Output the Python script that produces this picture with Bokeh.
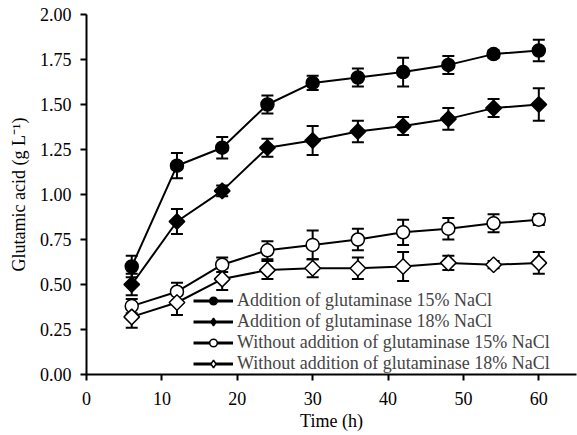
import numpy as np
from bokeh.plotting import figure
from bokeh.models import (ColumnDataSource, Whisker, TeeHead, Legend, LegendItem, FixedTicker,
                          NumeralTickFormatter, Range1d, LinearAxis, BasicTickFormatter)
from bokeh.embed import file_html
from bokeh.resources import INLINE

time_h = [6, 12, 18, 24, 30, 36, 42, 48, 54, 60]

add_15 = [0.60, 1.16, 1.26, 1.50, 1.62, 1.65, 1.68, 1.72, 1.78, 1.80]
add_15_err = [0.06, 0.07, 0.06, 0.05, 0.04, 0.05, 0.08, 0.05, 0.02, 0.06]

add_18 = [0.50, 0.85, 1.02, 1.26, 1.30, 1.35, 1.38, 1.42, 1.48, 1.50]
add_18_err = [0.06, 0.07, 0.03, 0.05, 0.08, 0.06, 0.05, 0.06, 0.05, 0.09]

wo_15 = [0.38, 0.46, 0.61, 0.69, 0.72, 0.75, 0.79, 0.81, 0.84, 0.86]
wo_15_err = [0.04, 0.05, 0.04, 0.05, 0.08, 0.06, 0.07, 0.06, 0.05, 0.03]

wo_18 = [0.32, 0.40, 0.53, 0.58, 0.59, 0.59, 0.60, 0.62, 0.61, 0.62]
wo_18_err = [0.06, 0.07, 0.06, 0.05, 0.05, 0.06, 0.08, 0.04, 0.02, 0.06]

labels = [
    "Addition of glutaminase 15% NaCl",
    "Addition of glutaminase 18% NaCl",
    "Without addition of glutaminase 15% NaCl",
    "Without addition of glutaminase 18% NaCl",
]

y_ticks = [0, 0.25, 0.5, 0.75, 1.0, 1.25, 1.5, 1.75, 2.0]
x_ticks = [0, 10, 20, 30, 40, 50, 60]

FONT = "Liberation Serif"

p = figure(width=577, height=435, output_backend="svg", toolbar_location=None,
           x_range=Range1d(0, 65), y_range=Range1d(0, 2.0),
           x_axis_location=None, y_axis_location=None,
           min_border_left=86, min_border_right=1, min_border_top=14, min_border_bottom=61)
p.outline_line_color = None
p.grid.visible = False
p.background_fill_color = "white"
p.border_fill_color = "white"

axis_style = dict(
    axis_line_width=2, axis_line_color="black",
    major_tick_line_width=2, major_tick_line_color="black",
    major_tick_out=6, major_tick_in=0, minor_tick_out=0, minor_tick_in=0,
    major_label_text_font=FONT, major_label_text_font_size="18px",
    major_label_text_color="black", major_label_text_font_style="normal",
    axis_label_text_font=FONT, axis_label_text_font_size="18px",
    axis_label_text_font_style="normal", axis_label_text_color="black",
)

xaxis = LinearAxis(ticker=FixedTicker(ticks=x_ticks), formatter=BasicTickFormatter(),
                   axis_label="Time (h)", major_label_standoff=11, axis_label_standoff=3,
                   **axis_style)
yaxis = LinearAxis(ticker=FixedTicker(ticks=y_ticks), formatter=NumeralTickFormatter(format="0.00"),
                   axis_label="Glutamic acid (g L\u207b\u00b9)", major_label_standoff=9,
                   axis_label_standoff=8, **axis_style)
p.add_layout(xaxis, "below")
p.add_layout(yaxis, "left")

series = [
    (add_15, add_15_err, "circle", 0, 13, "black", "circle", 9),
    (add_18, add_18_err, "square", np.pi / 4, 11, "black", "diamond", 14),
    (wo_15, wo_15_err, "circle", 0, 13, "white", "circle", 9),
    (wo_18, wo_18_err, "square", np.pi / 4, 11, "white", "diamond", 14),
]
legend_offsets = [63, 42, 21, 0]

for (vals, errs, marker, ang, size, fill, lmarker, lsize), lab, off in zip(series, labels, legend_offsets):
    v = np.array(vals)
    e = np.array(errs)
    src = ColumnDataSource(dict(x=time_h, y=v, lo=v - e, hi=v + e))
    w = Whisker(source=src, base="x", lower="lo", upper="hi",
                line_color="black", line_width=2,
                lower_head=TeeHead(size=12, line_width=2, line_color="black"),
                upper_head=TeeHead(size=12, line_width=2, line_color="black"))
    p.add_layout(w)
    p.line("x", "y", source=src, line_color="black", line_width=2)
    p.scatter("x", "y", source=src, marker=marker, angle=ang, size=size,
              fill_color=fill, line_color="black", line_width=1.5)
    # legend sample glyphs: hidden renderers on the same data
    lln = p.line("x", "y", source=src, line_color="black", line_width=3, visible=False)
    lsc = p.scatter("x", "y", source=src, marker=lmarker, size=lsize,
                    fill_color=fill, line_color="black", line_width=1.5, visible=False)
    leg = Legend(items=[LegendItem(label=lab, renderers=[lln, lsc])],
                 location=(107, off), padding=0, margin=0, spacing=0,
                 glyph_width=40, glyph_height=19, label_height=19, label_standoff=4,
                 label_text_font=FONT, label_text_font_size="18px",
                 inactive_fill_alpha=0,
                 background_fill_alpha=0, border_line_alpha=0)
    p.add_layout(leg, "center")

open("out.html", "w").write(file_html(p, INLINE))
